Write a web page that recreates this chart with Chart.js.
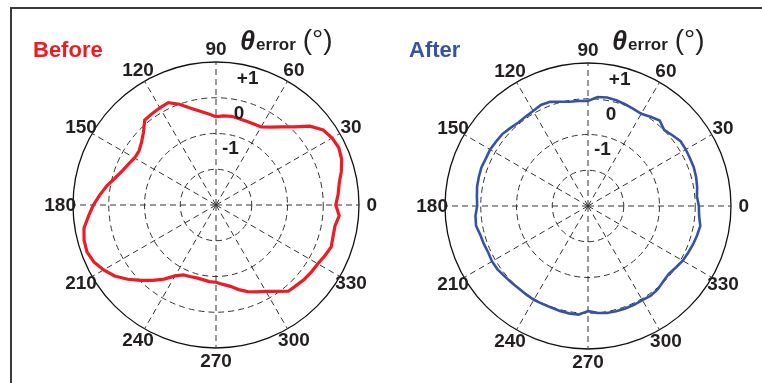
<!DOCTYPE html>
<html><head><meta charset="utf-8">
<script src="https://cdn.jsdelivr.net/npm/chart.js@4.4.1/dist/chart.umd.min.js"></script>
<style>
html,body{margin:0;padding:0;background:#fff;}
#wrap{position:relative;width:762px;height:383px;overflow:hidden;}
#frame{position:absolute;left:10px;top:7px;width:800px;height:420px;border-top:2px solid #3a3a3a;border-left:2px solid #3a3a3a;}
canvas{position:absolute;top:0;}
</style></head><body>
<div id="wrap"><div id="frame"></div>
<canvas id="c1" width="381" height="383" style="left:0"></canvas>
<canvas id="c2" width="381" height="383" style="left:381px"></canvas>
</div>
<script>
// angles in degrees (math convention, counter-clockwise from east)
const angles = [0,5,10,15,20,25,30,35,40,45,50,55,60,65,70,75,80,85,90,95,100,105,110,115,120,125,130,135,140,145,150,155,160,165,170,175,180,185,190,195,200,205,210,215,220,225,230,235,240,245,250,255,260,265,270,275,280,285,290,295,300,305,310,315,320,325,330,335,340,345,350,355];
const beforeErr = [0.35,0.43,0.50,0.63,0.74,0.79,0.75,0.66,0.43,0.09,-0.15,-0.34,-0.48,-0.50,-0.51,-0.50,-0.48,-0.50,-0.53,-0.44,-0.33,-0.19,0.00,0.16,0.14,0.12,0.10,-0.13,-0.28,-0.37,-0.37,-0.30,-0.21,-0.08,0.10,0.26,0.43,0.58,0.75,0.82,0.84,0.77,0.63,0.46,0.23,-0.02,-0.25,-0.47,-0.71,-0.84,-0.87,-0.89,-0.88,-0.85,-0.84,-0.77,-0.69,-0.55,-0.42,-0.32,-0.21,-0.05,0.15,0.18,0.23,0.26,0.29,0.36,0.43,0.39,0.38,0.46];
const afterErr = [0.10,0.06,0.10,0.13,0.15,0.15,0.16,0.16,0.08,0.01,0.12,0.05,-0.02,0.00,0.03,0.06,0.08,0.06,-0.06,-0.05,-0.04,0.02,0.10,0.12,0.07,0.05,0.04,0.08,0.13,0.14,0.16,0.15,0.17,0.16,0.15,0.12,0.10,0.16,0.18,0.12,0.10,0.08,0.10,0.09,0.05,0.03,0.01,0.02,0.03,0.02,0.02,0.04,0.05,0.05,-0.06,0.00,0.04,0.05,0.05,0.05,0.04,0.06,0.04,-0.02,-0.05,0.00,0.06,0.09,0.13,0.16,0.19,0.12];
const radialMin = -3, radialMax = 1;
const radialTicks = [-1, 0, 1];
const radialTickLabels = ['-1', '0', '+1'];
const angleLabelStep = 30;
const panelLabels = ['Before', 'After'];
const panelColors = ['#ed1c24', '#3552a6'];
const titleParts = ['\u03B8', 'error', '(\u00B0)'];

// Chart.js radar goes clockwise from startAngle; reorder so angles run counter-clockwise from east
const n = angles.length;
const order = angles.map((_, i) => (n - i) % n);
const radarLabels = order.map(k => angles[k]);
const reorder = arr => order.map(k => arr[k]);

const FONT = '"Liberation Sans", Arial, Helvetica, sans-serif';
const polarText = {
  id: 'polarText',
  afterDraw(chart, args, opts) {
    const s = chart.scales.r, ctx = chart.ctx;
    ctx.save();
    ctx.fillStyle = '#231f20';
    ctx.font = 'bold 19px ' + FONT;
    ctx.textAlign = 'center';
    ctx.textBaseline = 'middle';
    const rOut = s.getDistanceFromCenterForValue(s.max) * 1.09;
    chart.data.labels.forEach((lab, i) => {
      if (lab % angleLabelStep !== 0) return;
      const p = s.getPointPosition(i, rOut);
      ctx.fillText(String(lab), p.x, p.y + 1);
    });
    const a = 76 * Math.PI / 180;
    radialTicks.forEach((v, j) => {
      const d = s.getDistanceFromCenterForValue(v) - 12;
      ctx.fillText(radialTickLabels[j], s.xCenter + Math.cos(a) * d, s.yCenter - Math.sin(a) * d + 1);
    });
    // panel label
    ctx.textAlign = 'left';
    ctx.textBaseline = 'alphabetic';
    ctx.fillStyle = opts.color;
    ctx.font = 'bold 22px ' + FONT;
    ctx.fillText(opts.label, opts.lx, 57);
    // axis title
    ctx.fillStyle = '#231f20';
    let x = s.xCenter + 24;
    ctx.font = 'italic bold 27px ' + FONT;
    ctx.fillText(titleParts[0], x, 50);
    x += ctx.measureText(titleParts[0]).width + 1;
    ctx.font = 'bold 17px ' + FONT;
    ctx.fillText(titleParts[1], x, 50);
    x += ctx.measureText(titleParts[1]).width + 7;
    ctx.font = '28px ' + FONT;
    ctx.fillText(titleParts[2], x, 49);
    ctx.restore();
  }
};

function makePolar(id, values, idx, pad) {
  new Chart(document.getElementById(id), {
    type: 'radar',
    data: {
      labels: radarLabels,
      datasets: [{
        data: reorder(values),
        borderColor: panelColors[idx],
        borderWidth: idx === 0 ? 3.2 : 2.6,
        pointRadius: 0,
        fill: false,
        tension: 0
      }]
    },
    options: {
      responsive: false,
      animation: false,
      events: [],
      layout: { padding: pad },
      plugins: {
        legend: { display: false },
        tooltip: { enabled: false },
        polarText: { label: panelLabels[idx], color: panelColors[idx], lx: idx === 0 ? 33 : 28 }
      },
      scales: {
        r: {
          min: radialMin,
          max: radialMax,
          startAngle: 90,
          ticks: { display: false, stepSize: 1 },
          pointLabels: { display: false },
          grid: {
            circular: true,
            color: c => (c.tick && c.tick.value === radialMax) ? '#111' : '#333',
            lineWidth: c => (c.tick && c.tick.value === radialMin) ? 0 : (c.tick && c.tick.value === radialMax ? 1.3 : 1)
          },
          border: {
            dash: c => (c.tick && c.tick.value === radialMax) ? [] : [6, 4]
          },
          angleLines: {
            color: '#333',
            lineWidth: c => (radarLabels[c.index] % angleLabelStep === 0 ? 1 : 0),
            borderDash: [6, 4]
          }
        }
      }
    },
    plugins: [polarText]
  });
}
makePolar('c1', beforeErr, 0, { left: 73, right: 22, top: 62, bottom: 35 });
makePolar('c2', afterErr, 1, { left: 64, right: 31, top: 63, bottom: 34 });
</script>
</body></html>
